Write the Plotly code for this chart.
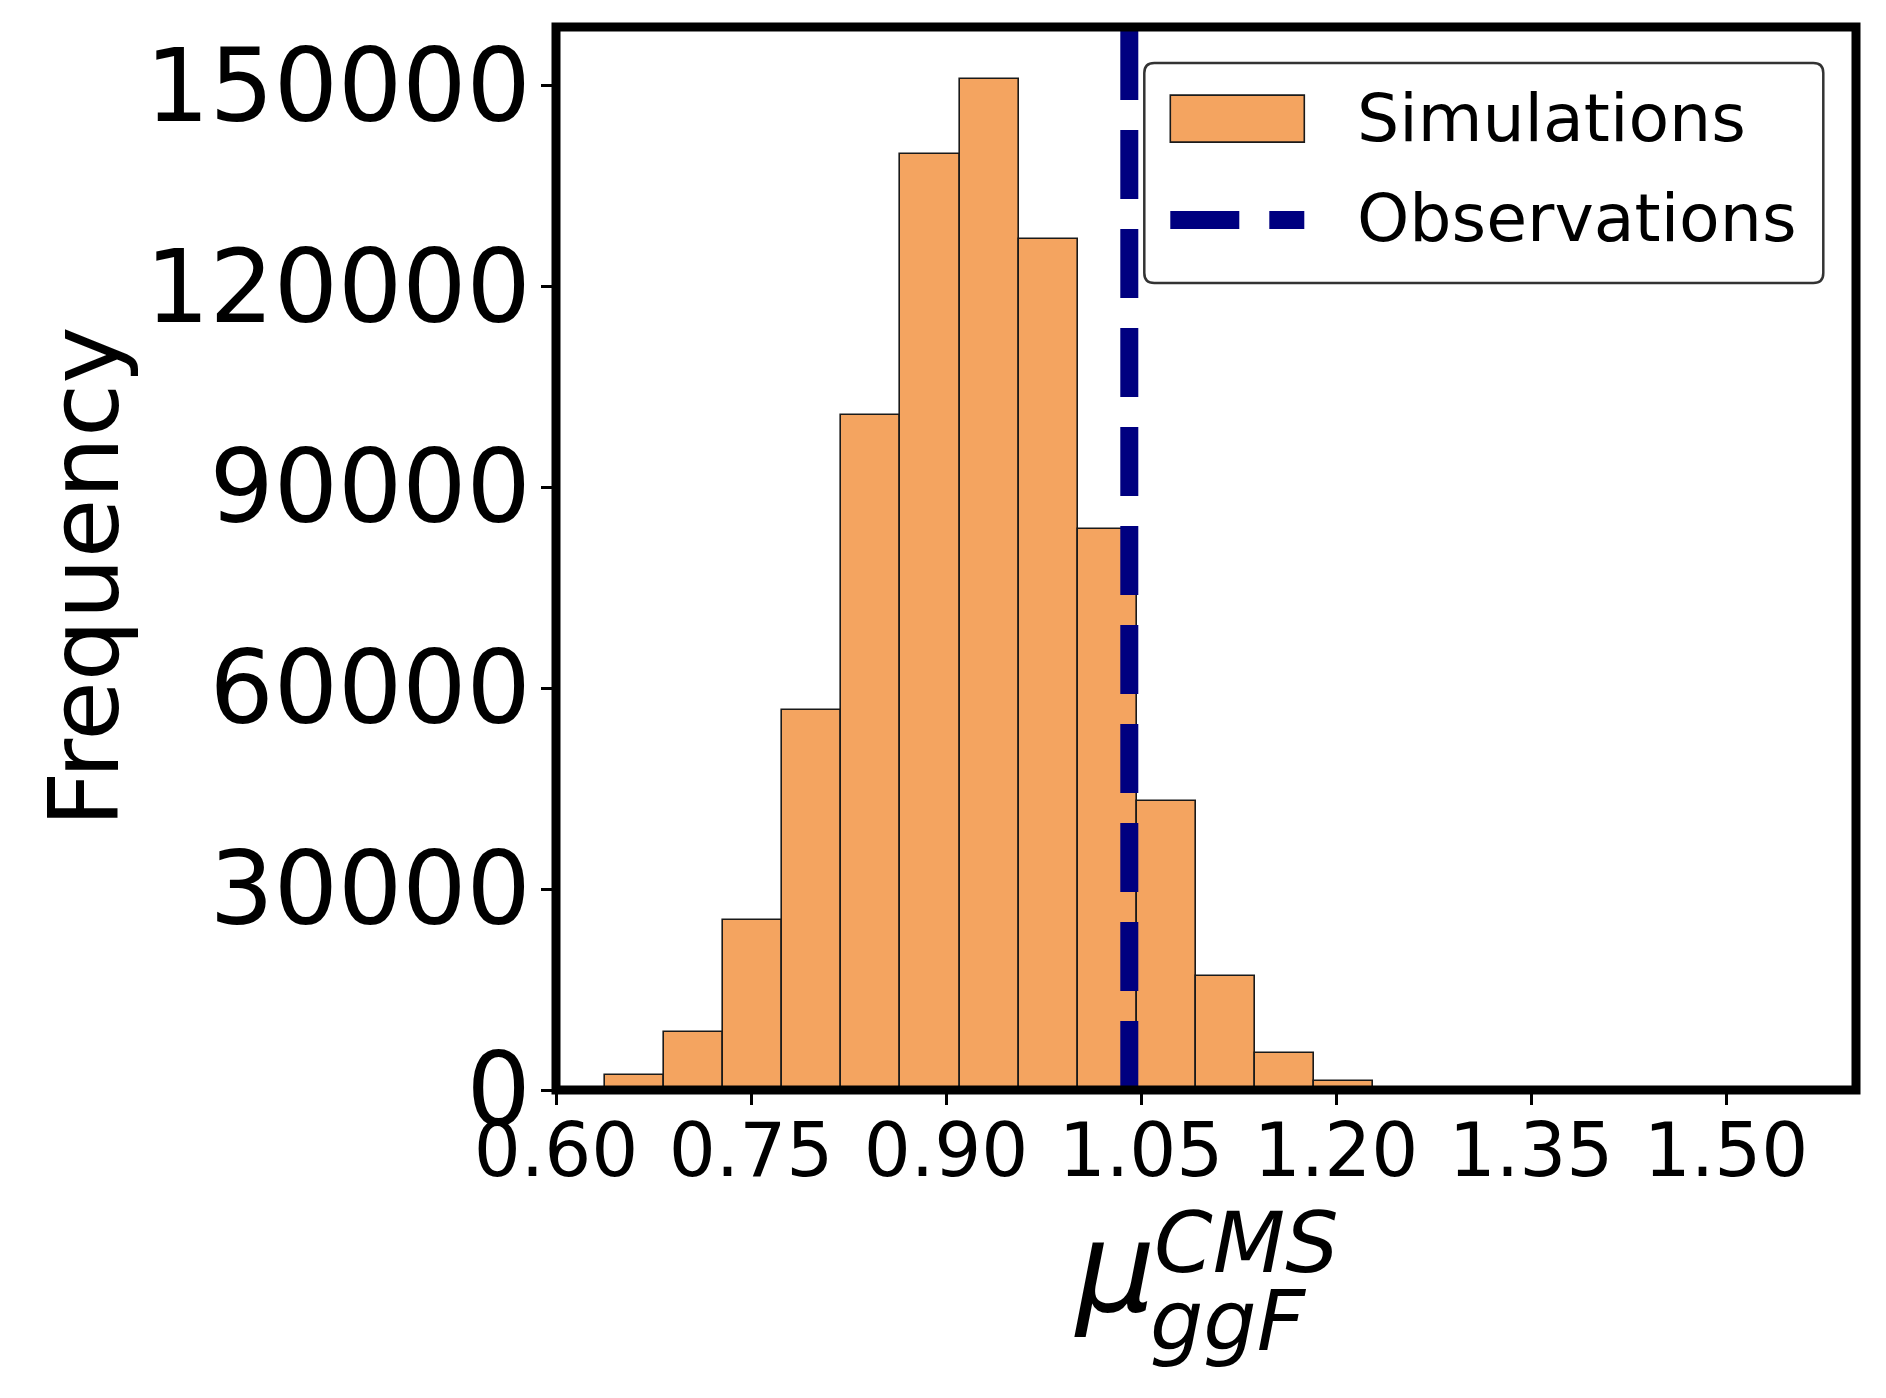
import plotly.graph_objects as go

# histogram of simulated mu_ggF^CMS values (bin edges + counts)
bin_edges = [0.6379, 0.6833, 0.7287, 0.7741, 0.8195, 0.8649, 0.9104,
             0.9558, 1.0012, 1.0466, 1.0920, 1.1374, 1.1828, 1.2282]
counts = [2240, 8700, 25360, 56770, 100760, 139720, 150860,
          126980, 83710, 43140, 17090, 5480, 1390]
observed = 1.041

x_ticks = [0.60, 0.75, 0.90, 1.05, 1.20, 1.35, 1.50]
x_labels = ["0.60", "0.75", "0.90", "1.05", "1.20", "1.35", "1.50"]
y_ticks = [0, 30000, 60000, 90000, 120000, 150000]
x_range = [0.6, 1.6]
y_range = [0, 158690]

FONT = "DejaVu Sans"
OFF = 8  # default body margin of the html page
W, H = 1886 - 2 * OFF, 1398 - 2 * OFF
LW = 9  # frame thickness

# plot area = data area (matplotlib spines sit centred on its edge)
L = 555.7 - OFF
T = 26.9 - OFF
PW = 1300
PH = 1063.1
R = W - L - PW
B = H - T - PH


def px(x):
    # page pixel x -> paper x
    return (x - OFF - L) / PW


def py(y):
    # page pixel y -> paper y
    return (T + PH - (y - OFF)) / PH


widths = [b - a for a, b in zip(bin_edges[:-1], bin_edges[1:])]

fig = go.Figure()
fig.add_trace(
    go.Bar(
        x=bin_edges[:-1],
        y=counts,
        width=widths,
        offset=0,
        marker=dict(color="#F4A460", line=dict(color="#1a1a1a", width=1.6)),
        showlegend=False,
    )
)
fig.add_trace(
    go.Scatter(
        x=[observed, observed],
        y=y_range,
        mode="lines",
        line=dict(color="#000080", width=18, dash="69px,30px"),
        showlegend=False,
    )
)

# frame drawn as a shape so it is centred on the data edge
shapes = [
    dict(type="rect", xref="paper", yref="paper", x0=0, x1=1, y0=0, y1=1,
         line=dict(color="black", width=LW), layer="above"),
]

# hand-made legend so the symbols match the matplotlib look
x0, x1, y0, y1 = px(1144), px(1823), py(63), py(283)
rx, ry = 10 / PW, 10 / PH
box = (
    f"M {x0+rx},{y0} L {x1-rx},{y0} Q {x1},{y0} {x1},{y0-ry} "
    f"L {x1},{y1+ry} Q {x1},{y1} {x1-rx},{y1} L {x0+rx},{y1} "
    f"Q {x0},{y1} {x0},{y1+ry} L {x0},{y0-ry} Q {x0},{y0} {x0+rx},{y0} Z"
)
shapes += [
    dict(type="path", path=box, xref="paper", yref="paper",
         fillcolor="white", line=dict(color="#333333", width=2.5), layer="above"),
    dict(type="rect", xref="paper", yref="paper",
         x0=px(1170), x1=px(1304), y0=py(95), y1=py(142),
         fillcolor="#F4A460", line=dict(color="#1a1a1a", width=1.6), layer="above"),
    dict(type="line", xref="paper", yref="paper",
         x0=px(1170), x1=px(1304), y0=py(220), y1=py(220),
         line=dict(color="#000080", width=18, dash="69px,30px"), layer="above"),
]

annotations = [
    dict(text="Simulations", x=px(1355), y=py(118), xanchor="left", yanchor="middle",
         font=dict(size=66.5, family=FONT, color="black")),
    dict(text="Observations", x=px(1355), y=py(218), xanchor="left", yanchor="middle",
         font=dict(size=66.5, family=FONT, color="black")),
    dict(text="Frequency", x=px(84), y=py(577), textangle=-90,
         xanchor="center", yanchor="middle",
         font=dict(size=97, family=FONT, color="black")),
    # x-axis label: mu with stacked sub/superscript
    dict(text="<i>μ</i>", x=px(1115), y=py(1268), xanchor="center", yanchor="middle",
         font=dict(size=125, family=FONT, color="black")),
    dict(text="<i>CMS</i>", x=px(1152), y=py(1243), xanchor="left", yanchor="middle",
         font=dict(size=84, family=FONT, color="black")),
    dict(text="<i>ggF</i>", x=px(1148), y=py(1321), xanchor="left", yanchor="middle",
         font=dict(size=84, family=FONT, color="black")),
]
for a in annotations:
    a.update(xref="paper", yref="paper", showarrow=False)

fig.update_layout(
    width=W,
    height=H,
    margin=dict(l=L, r=R, t=T, b=B, autoexpand=False),
    paper_bgcolor="white",
    plot_bgcolor="white",
    bargap=0,
    shapes=shapes,
    annotations=annotations,
    font=dict(family=FONT, color="black"),
    xaxis=dict(
        range=x_range,
        tickvals=x_ticks,
        ticktext=x_labels,
        tickfont=dict(size=74, family=FONT, color="black"),
        ticks="outside",
        ticklen=14,
        tickwidth=2.5,
        tickcolor="black",
        showline=False,
        showgrid=False,
        zeroline=False,
        ticklabelstandoff=-18,
    ),
    yaxis=dict(
        range=y_range,
        tickvals=y_ticks,
        tickfont=dict(size=101, family=FONT, color="black"),
        tickformat="d",
        ticks="outside",
        ticklen=14,
        tickwidth=2.5,
        tickcolor="black",
        showline=False,
        showgrid=False,
        zeroline=False,
        ticklabelstandoff=-10,
    ),
)

fig.write_html("out.html")
